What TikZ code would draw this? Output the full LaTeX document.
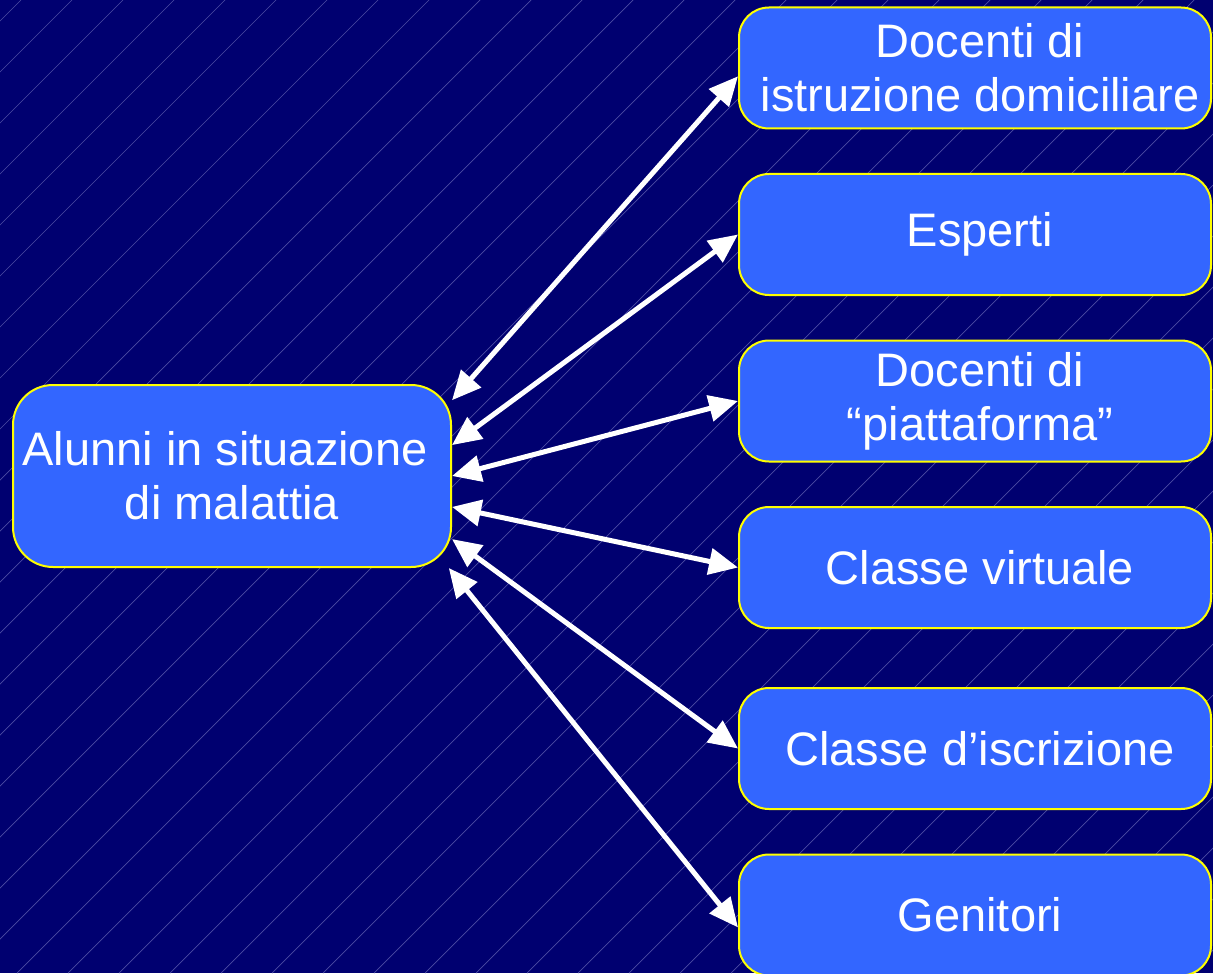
\documentclass[tikz,border=0pt]{standalone}
\usepackage{fontspec}
\setmainfont{Liberation Sans}
\usetikzlibrary{arrows.meta}

\newlength{\du}
\setlength{\du}{0.5pt}

\begin{document}
\begin{tikzpicture}[x=\du,y=-\du,
  box/.style={draw=boxlinecolor,line width=2\du,fill=boxfillcolor,rounded corners=30\du,
    minimum width=472\du,minimum height=121\du,inner sep=0pt,align=center,text=white,
    font=\fontsize{23.5}{27}\selectfont},
  bigbox/.style={box,minimum width=438\du,minimum height=182\du,rounded corners=40\du},
  link/.style={draw=white,line width=2.5pt,
    {Triangle[length=14.5pt,width=13pt]}-{Triangle[length=14.5pt,width=13pt]}},
  hatch/.style={draw=hatchcolor,line width=0.7\du}]
\definecolor{bgcolor}{rgb}{0.000000, 0.000000, 0.440000}
\definecolor{hatchcolor}{rgb}{0.300000, 0.300000, 0.640000}
\definecolor{boxfillcolor}{rgb}{0.200000, 0.400000, 1.000000}
\definecolor{boxlinecolor}{rgb}{1.000000, 1.000000, 0.000000}
\useasboundingbox (0,0) rectangle (1213,973);
\fill[bgcolor] (0,0) rectangle (1213,973);
\begin{scope}
\clip (0,0) rectangle (1213,973);
\foreach \k in {0,...,42}
  \draw[hatch] ({21+51*\k},0) -- ({21+51*\k-973},973);
\end{scope}
% boxes
\node[bigbox] (alunni) at (232,476) {Alunni in situazione\kern14\du\\di malattia};
\node[box] (docenti) at (975,68) {\kern10\du Docenti di\\\kern10\du istruzione domiciliare};
\node[box] (esperti) at (975,234.5) {\kern10\du Esperti};
\node[box] (piattaforma) at (975,401) {\kern10\du Docenti di\\\kern10\du “piattaforma”};
\node[box] (virtuale) at (975,567.5) {\kern10\du Classe virtuale};
\node[box] (iscrizione) at (975,748.5) {\kern10\du Classe d’iscrizione};
\node[box] (genitori) at (975,915) {\kern10\du Genitori};
% links
\draw[link] (alunni.19) -- (docenti.182);
\draw[link] (alunni.8) -- (esperti.west);
\draw[link] (alunni.east) -- (piattaforma.west);
\draw[link] (alunni.-8) -- (virtuale.west);
\draw[link] (alunni.-16) -- (iscrizione.west);
\draw[link] (alunni.-23.5) -- (genitori.183);
\end{tikzpicture}
\end{document}
